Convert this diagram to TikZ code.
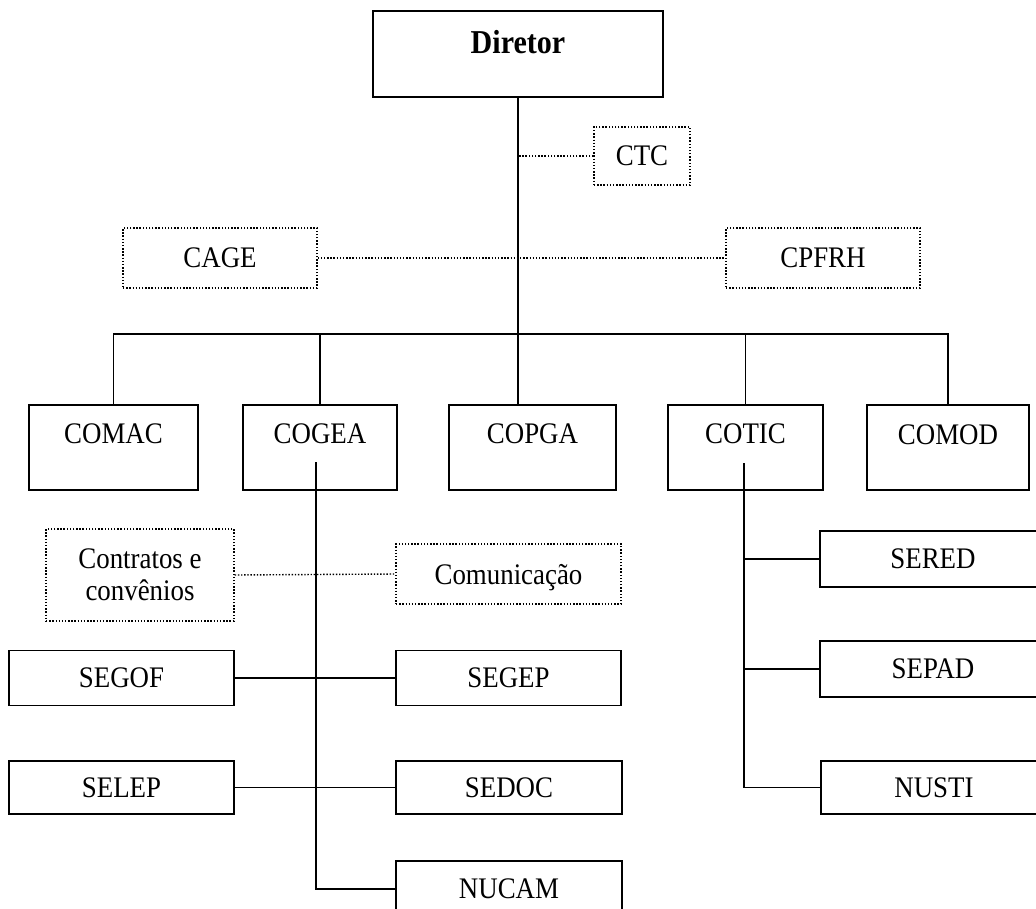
\documentclass[tikz,border=0pt]{standalone}
\usepackage{fontspec}
\setmainfont[FakeStretch=0.9]{Liberation Serif}
\begin{document}
\begin{tikzpicture}[x=0.02cm, y=-0.02cm,
    every node/.style={font=\fontsize{17}{18.5}\selectfont, inner sep=0pt},
    unit/.style={draw, line width=1pt},
    aux/.style={draw, densely dotted, line width=0.8pt},
    head/.style={anchor=north, minimum height=1.7cm, text height=0.78cm, text depth=0.92cm},
    link/.style={line width=1pt},
    dotlink/.style={densely dotted, line width=0.8pt}]
  \useasboundingbox (0,0) rectangle (1036,909);

  % direction and councils
  \node[unit, anchor=north, minimum width=5.8cm, text height=0.86cm, text depth=0.86cm,
        font=\fontsize{19}{20}\selectfont\bfseries] (D) at (518,10) {Diretor};
  \node[aux, minimum width=1.92cm, minimum height=1.16cm] (ctc) at (642,156) {CTC};
  \node[aux, minimum width=3.88cm, minimum height=1.2cm] (cage) at (220,258) {CAGE};
  \node[aux, minimum width=3.88cm, minimum height=1.2cm] (cpfrh) at (823,258) {CPFRH};

  % coordinations
  \node[unit, head, minimum width=3.38cm] (comac) at (113.5,404) {COMAC};
  \node[unit, head, minimum width=3.08cm] (cogea) at (320,404) {COGEA};
  \node[unit, head, minimum width=3.34cm] (copga) at (532.5,404) {COPGA};
  \node[unit, head, minimum width=3.1cm] (cotic) at (745.5,404) {COTIC};
  \node[unit, head, minimum width=3.24cm, text depth=0.88cm] (comod) at (948,404) {COMOD};

  % COGEA units
  \node[aux, minimum width=3.76cm, minimum height=1.84cm, align=center] (contr) at (140,575) {Contratos e\\convênios};
  \node[aux, minimum width=4.5cm, minimum height=1.2cm, text height=11.4pt, text depth=0pt] (comun) at (508.5,574) {Comunicação};
  \node[unit, minimum width=4.5cm, minimum height=1.1cm] (segof) at (121.5,678) {SEGOF};
  \node[unit, minimum width=4.5cm, minimum height=1.1cm] (segep) at (508.5,678) {SEGEP};
  \node[unit, minimum width=4.5cm, minimum height=1.06cm] (selep) at (121.5,787.5) {SELEP};
  \node[unit, minimum width=4.52cm, minimum height=1.06cm] (sedoc) at (509,787.5) {SEDOC};
  \node[unit, minimum width=4.52cm, minimum height=1.12cm] (nucam) at (509,889) {NUCAM};

  % COTIC units
  \node[unit, minimum width=4.52cm, minimum height=1.12cm] (sered) at (933,559) {SERED};
  \node[unit, minimum width=4.52cm, minimum height=1.12cm] (sepad) at (933,669) {SEPAD};
  \node[unit, minimum width=4.52cm, minimum height=1.06cm] (nusti) at (934,787.5) {NUSTI};

  \coordinate (bar) at (515,334);
  \coordinate (cogeaIn) at (316,462);
  \coordinate (coticIn) at (744,463);

  \draw[link] (D.south) -- (D.south |- copga.north);
  \draw[link] (comac.north) -- (comac.north |- bar) -- (comod.north |- bar) -- (comod.north);
  \draw[link] (cogea.north) -- (cogea.north |- bar);
  \draw[link] (cotic.north) -- (cotic.north |- bar);
  \draw[dotlink] (ctc.west) -- (ctc.west -| D.south);
  \draw[dotlink] (cage.east) -- (cpfrh.west);

  \draw[link] (cogeaIn) |- (nucam.west);
  \draw[dotlink] (contr.east) -- (comun.west);
  \draw[link] (segof.east) -- (segep.west);
  \draw[link] (selep.east) -- (sedoc.west);

  \draw[link] (coticIn) |- (nusti.west);
  \draw[link] (coticIn |- sered.west) -- (sered.west);
  \draw[link] (coticIn |- sepad.west) -- (sepad.west);
\end{tikzpicture}
\end{document}
